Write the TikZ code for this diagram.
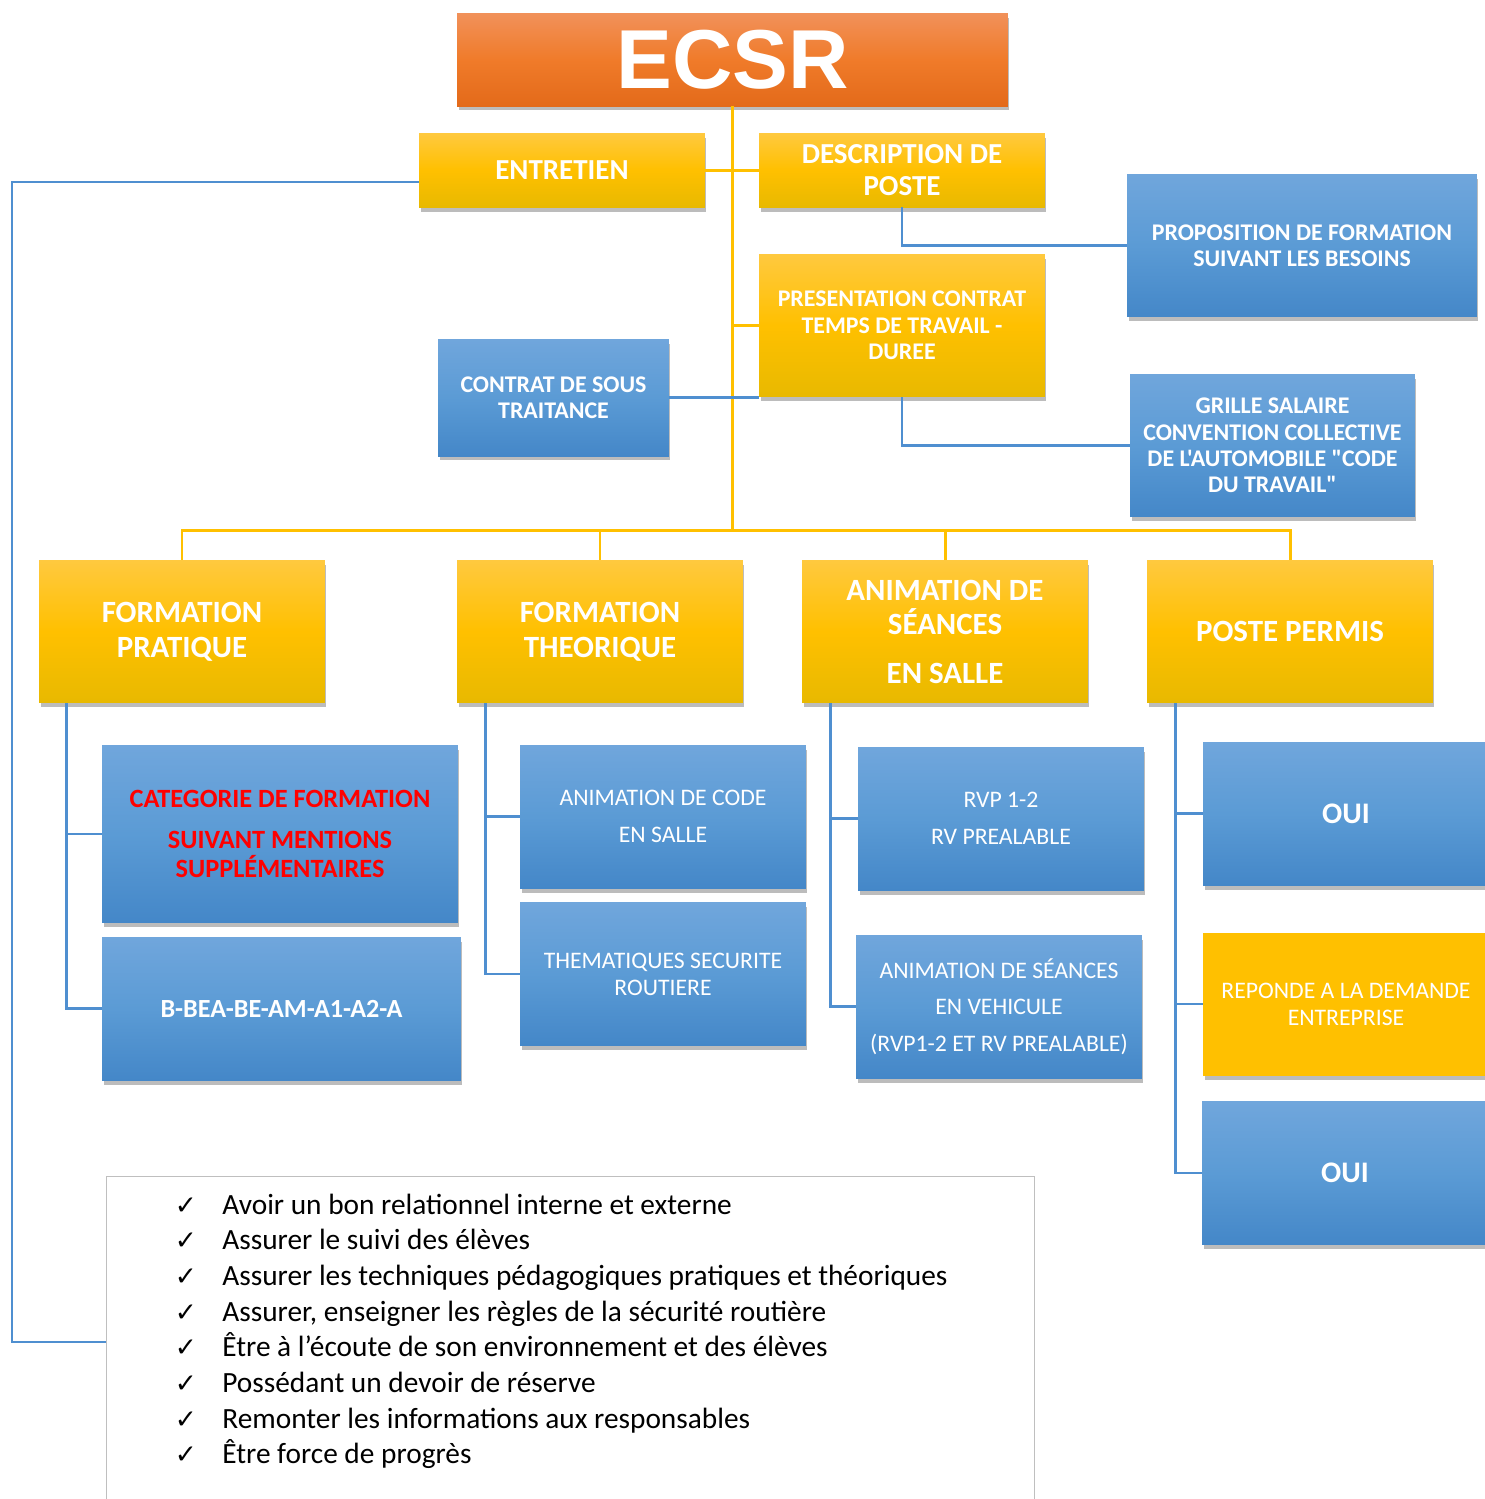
\documentclass[tikz,border=0pt]{standalone}
\usepackage{fontspec}
\setmainfont{Carlito}[Ligatures=TeXOff]
\newfontfamily\titrefont{Liberation Sans}
\newfontfamily\symfont{DejaVu Sans}
\usetikzlibrary{shadows}
\definecolor{jaune}{HTML}{FFC000}
\definecolor{jauneH}{HTML}{FFC93F}
\definecolor{jauneB}{HTML}{E8B900}
\definecolor{bleu}{HTML}{5B9BD5}
\definecolor{bleuH}{HTML}{70A6DC}
\definecolor{bleuB}{HTML}{4487C8}
\definecolor{bleuT}{HTML}{4F8FD0}
\definecolor{orangeH}{HTML}{F1915A}
\definecolor{orangeM}{HTML}{F07B2A}
\definecolor{orangeB}{HTML}{E36A1A}
\definecolor{rougeT}{HTML}{FF0000}

\begin{document}
\begin{tikzpicture}[x=0.02cm, y=-0.02cm,
  every node/.append style={align=center, inner sep=0pt},
  box/.style={rectangle, text=white, minimum width=5.72cm, minimum height=2.86cm,
    drop shadow={shadow xshift=0.03cm, shadow yshift=-0.09cm, opacity=0.4, fill=black!65}},
  ybox/.style={box, top color=jauneH, bottom color=jauneB, middle color=jaune},
  bbox/.style={box, top color=bleuH, bottom color=bleuB, middle color=bleu},
  obox/.style={box, top color=orangeH, bottom color=orangeB, middle color=orangeM},
  grand/.style={font=\bfseries\fontsize{17.6}{19.8}\selectfont},
  moyen/.style={font=\bfseries\fontsize{16.5}{18}\selectfont},
  petit/.style={font=\bfseries\fontsize{13.6}{15}\selectfont},
  fin/.style={font=\fontsize{13.5}{15.3}\selectfont},
  yline/.style={jaune, line width=1.7pt},
  bline/.style={bleuT, line width=1.4pt},
  puce/.style={anchor=base, font=\symfont\fontsize{15}{16}\selectfont},
  ligne/.style={anchor=base west, font=\fontsize{16.7}{18}\selectfont}]
  \useasboundingbox (0,0) rectangle (1485,1499);
  \fill[white] (0,0) rectangle (1485,1499);
  \clip (0,0) rectangle (1485,1499);

  % haut
  \node[obox, minimum width=11.02cm, minimum height=1.86cm,
    font=\titrefont\bfseries\fontsize{47.6}{50}\selectfont] (ecsr) at (732.5,59.5) {ECSR};
  \node[ybox, moyen, minimum height=1.48cm] (entretien) at (562,170) {ENTRETIEN};
  \node[ybox, moyen, minimum height=1.48cm] (desc) at (902,170) {DESCRIPTION DE\\POSTE};
  \node[bbox, petit, minimum width=7cm] (propo) at (1302,245.5) {PROPOSITION DE FORMATION\\SUIVANT LES BESOINS};
  \node[ybox, petit] (pres) at (902,325.5) {PRESENTATION CONTRAT\\TEMPS DE TRAVAIL -\\DUREE};
  \node[bbox, petit, minimum width=4.62cm, minimum height=2.34cm] (soustrait) at (553.5,397.5) {CONTRAT DE SOUS\\TRAITANCE};
  \node[bbox, petit, minimum width=5.7cm] (grille) at (1272.5,445.5)
    {GRILLE SALAIRE\\CONVENTION COLLECTIVE\\DE L'AUTOMOBILE "CODE\\DU TRAVAIL"};

  % quatre branches
  \node[ybox, grand] (fp) at (182,631.5) {FORMATION\\PRATIQUE};
  \node[ybox, grand] (ft) at (600,631.5) {FORMATION\\THEORIQUE};
  \node[ybox, grand] (as) at (945,631.5) {ANIMATION DE\\SÉANCES\\[0.27cm]EN SALLE};
  \node[ybox, grand] (pp) at (1290,631.5) {POSTE PERMIS};

  \node[bbox, minimum width=7.12cm, minimum height=3.56cm, text=rougeT,
    font=\bfseries\fontsize{15}{16.4}\selectfont] (cat) at (280,834)
    {CATEGORIE DE FORMATION\\[0.24cm]SUIVANT MENTIONS\\SUPPLÉMENTAIRES};
  \node[bbox, minimum width=7.18cm, font=\bfseries\fontsize{14.9}{16}\selectfont] (bbea) at (281.5,1008.5) {B-BEA-BE-AM-A1-A2-A};
  \node[bbox, fin, font=\fontsize{13.5}{21}\selectfont] (code) at (663,816.5) {ANIMATION DE CODE\\EN SALLE};
  \node[bbox, fin] (them) at (663,974) {THEMATIQUES SECURITE\\ROUTIERE};
  \node[bbox, font=\fontsize{13.5}{21}\selectfont] (rvp) at (1001,818.5) {RVP 1-2\\RV PREALABLE};
  \node[bbox, font=\fontsize{13.5}{20.7}\selectfont] (veh) at (999,1006.5) {ANIMATION DE SÉANCES\\EN VEHICULE\\(RVP1-2 ET RV PREALABLE)};
  \node[bbox, font=\bfseries\fontsize{17}{18}\selectfont] (oui) at (1346,813.5) {OUI};
  \node[box, fill=jaune, fin] (repond) at (1346,1004) {REPONDE A LA DEMANDE\\ENTREPRISE};
  \node[bbox, font=\bfseries\fontsize{17}{18}\selectfont] (ouibis) at (1345,1173) {OUI};

  % liste
  \node[draw=black!25, line width=0.8pt, anchor=north west, minimum width=18.56cm,
    minimum height=7cm] (liste) at (106,1176) {};
  \foreach \t [count=\i] in {Avoir un bon relationnel interne et externe,
      Assurer le suivi des élèves,
      Assurer les techniques pédagogiques pratiques et théoriques,
      {Assurer, enseigner les règles de la sécurité routière},
      Être à l’écoute de son environnement et des élèves,
      Possédant un devoir de réserve,
      Remonter les informations aux responsables,
      Être force de progrès} {
    \node[puce] (c\i) at (186,1214+35.7*\i-35.7) {✓};
    \node[ligne] (l\i) at (222,1214+35.7*\i-35.7) {\t};
  }

  % liaisons jaunes
  \coordinate (bus) at (ecsr.south |- 0,530);
  \draw[yline] (ecsr.south) -- (bus);
  \draw[yline] (entretien.east) -- (desc.west);
  \draw[yline] (ecsr.south |- pres.west) -- (pres.west);
  \draw[yline] (fp.north) |- (bus) -| (pp.north);
  \draw[yline] (ft.north) -- (ft.north |- bus);
  \draw[yline] (as.north) -- (as.north |- bus);

  % liaisons bleues
  \draw[bline] (desc.south) |- (propo.west);
  \draw[bline] (pres.south) |- (grille.west);
  \draw[bline] (soustrait.east) -- (soustrait.east -| pres.west);
  \draw[bline] ([xshift=0.56cm]fp.south west) |- (cat.west);
  \draw[bline] ([xshift=0.56cm]fp.south west) |- (bbea.west);
  \draw[bline] ([xshift=0.58cm]ft.south west) |- (code.west);
  \draw[bline] ([xshift=0.58cm]ft.south west) |- (them.west);
  \draw[bline] ([xshift=0.58cm]as.south west) |- (rvp.west);
  \draw[bline] ([xshift=0.58cm]as.south west) |- (veh.west);
  \draw[bline] ([xshift=0.58cm]pp.south west) |- (oui.west);
  \draw[bline] ([xshift=0.58cm]pp.south west) |- (repond.west);
  \draw[bline] ([xshift=0.58cm]pp.south west) |- (ouibis.west);
  \coordinate (coin) at (12,1342);
  \draw[bline] ([yshift=-0.24cm]entretien.west) -| (coin) -- (coin -| liste.west);
\end{tikzpicture}
\end{document}
